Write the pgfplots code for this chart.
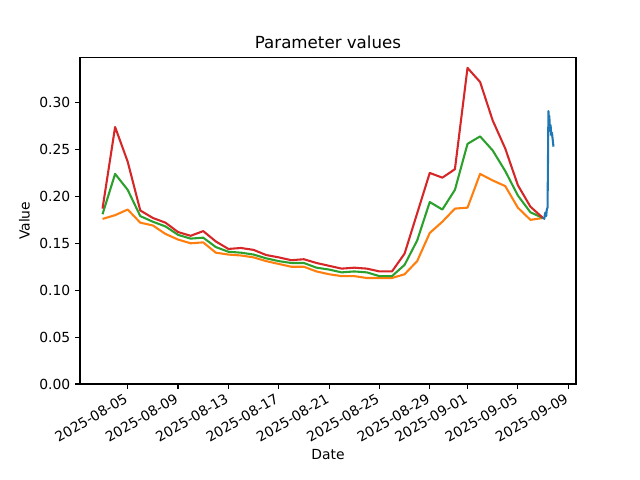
\documentclass[border=0pt]{standalone}
\usepackage{pgfplots}
\pgfplotsset{compat=1.18}
\usepackage{pgfplotstable}
\usepackage{fontspec}
\setmainfont{DejaVu Sans}
\definecolor{tabblue}{HTML}{1F77B4}
\definecolor{taborange}{HTML}{FF7F0E}
\definecolor{tabgreen}{HTML}{2CA02C}
\definecolor{tabred}{HTML}{D62728}
\pgfplotstableread{
day red green orange
-2 0.187 0.181 0.176
-1 0.274 0.224 0.180
0 0.237 0.207 0.186
1 0.185 0.179 0.172
2 0.177 0.173 0.169
3 0.172 0.168 0.160
4 0.162 0.159 0.154
5 0.158 0.155 0.150
6 0.163 0.156 0.151
7 0.152 0.146 0.140
8 0.144 0.141 0.138
9 0.145 0.140 0.137
10 0.143 0.138 0.135
11 0.1375 0.134 0.131
12 0.135 0.131 0.128
13 0.132 0.129 0.125
14 0.133 0.129 0.125
15 0.129 0.124 0.120
16 0.126 0.122 0.117
17 0.123 0.119 0.115
18 0.124 0.120 0.115
19 0.123 0.119 0.113
20 0.120 0.115 0.113
21 0.120 0.115 0.113
22 0.139 0.127 0.117
23 0.182 0.153 0.131
24 0.225 0.194 0.161
25 0.220 0.186 0.173
26 0.229 0.207 0.187
27 0.337 0.256 0.188
28 0.322 0.264 0.224
29 0.281 0.249 0.217
30 0.251 0.227 0.211
31 0.212 0.201 0.188
32 0.189 0.183 0.175
33 0.177 0.177 0.177
}\daily
\pgfplotstableread{
day val
33.00 0.176
33.05 0.177
33.10 0.176
33.15 0.181
33.20 0.183
33.25 0.179
33.30 0.186
33.36 0.188
33.43 0.291
33.47 0.281
33.50 0.286
33.55 0.270
33.60 0.276
33.66 0.265
33.71 0.268
33.83 0.253
}\hourly
\begin{document}
\begin{tikzpicture}
\begin{axis}[
  scale only axis,
  width=357.12pt, height=235.0pt,
  xmin=-3.79, xmax=35.62,
  ymin=0, ymax=0.348,
  axis line style={line width=0.8pt},
  every tick/.style={line width=0.8pt, black},
  major tick length=3.5pt,
  tick align=outside,
  xtick pos=left, ytick pos=left,
  xtick={0,4,8,12,16,20,24,27,31,35},
  xticklabels={2025-08-05,2025-08-09,2025-08-13,2025-08-17,2025-08-21,2025-08-25,2025-08-29,2025-09-01,2025-09-05,2025-09-09},
  xticklabel style={rotate=30, anchor=north east, font=\fontsize{10}{12}\selectfont, inner sep=1pt, xshift=-3pt},
  ytick={0,0.05,0.10,0.15,0.20,0.25,0.30},
  yticklabel style={/pgf/number format/fixed, /pgf/number format/precision=2, /pgf/number format/fixed zerofill, font=\fontsize{10}{12}\selectfont},
  /pgf/number format/assume math mode=true,
  scaled y ticks=false,
  title={Parameter values},
  title style={font=\fontsize{12}{14}\selectfont, yshift=-3pt},
  xlabel={Date}, ylabel={Value},
  label style={font=\fontsize{10}{12}\selectfont},
  clip=false,
]
\addplot[taborange, line width=1.5pt, line join=round] table[x=day, y=orange] {\daily};
\addplot[tabgreen, line width=1.5pt, line join=round] table[x=day, y=green] {\daily};
\addplot[tabred, line width=1.5pt, line join=round] table[x=day, y=red] {\daily};
\addplot[tabblue, line width=1.5pt, line join=round] table[x=day, y=val] {\hourly};
\coordinate (bl) at (rel axis cs:0,0);
\coordinate (tr) at (rel axis cs:1,1);
\end{axis}
\pgfresetboundingbox
\path[use as bounding box] ([shift={(-57.6pt,-69.12pt)}]bl) rectangle ([shift={(46.08pt,41.47pt)}]tr);
\end{tikzpicture}
\end{document}
